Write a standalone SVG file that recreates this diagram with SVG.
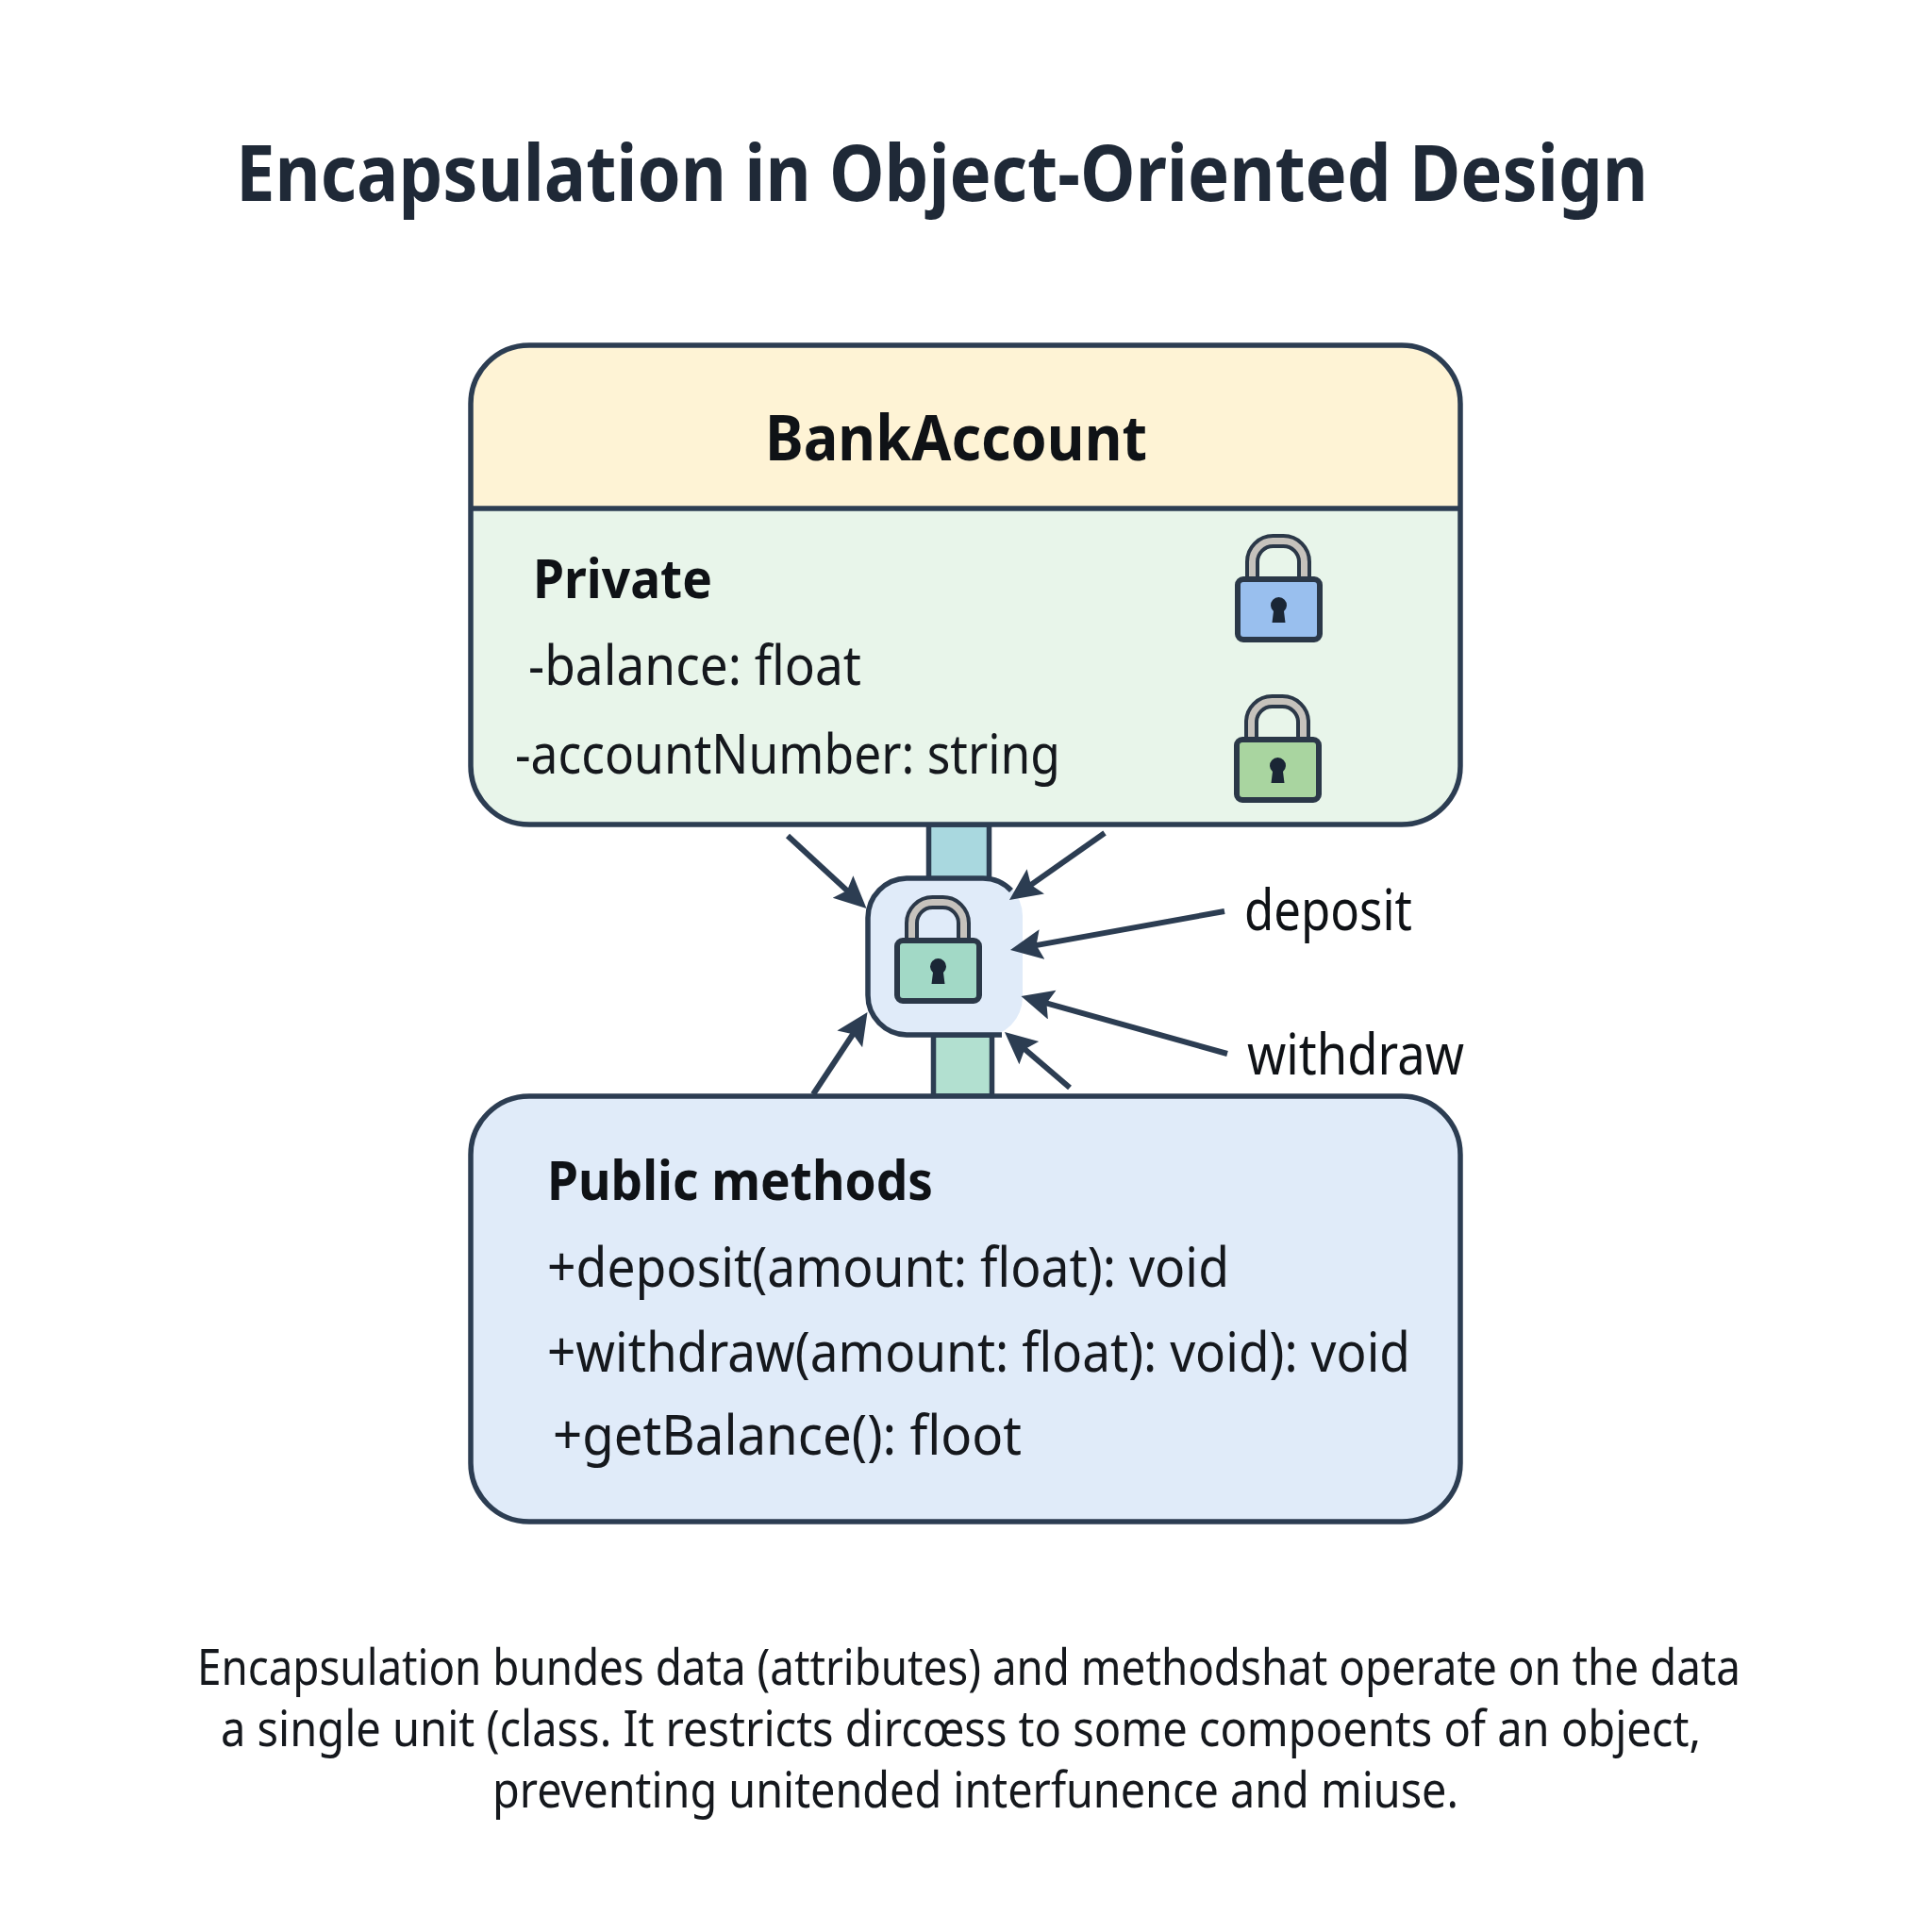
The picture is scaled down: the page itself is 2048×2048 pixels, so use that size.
<svg xmlns="http://www.w3.org/2000/svg" width="2048" height="2048" viewBox="0 0 2048 2048">
<style>
text{font-family:"Noto Sans","Open Sans","Liberation Sans",sans-serif;fill:#0f1216}
.title{font-size:82px;font-weight:700;fill:#1f2937}
.head{font-size:67px;font-weight:700}
.sec{font-size:58px;font-weight:700}
.row{font-size:58px;fill:#15181d}
.lab{font-size:60px}
.cap{font-size:52px;fill:#15181d}
.edge{fill:none;stroke:#2c3d52;stroke-width:5.500}
.out{fill:none;stroke:#2c3d52;stroke-width:5.500}
.ar{fill:none;stroke:#2c3d52;stroke-width:6;marker-end:url(#head)}
</style>
<defs>
<marker id="head" markerUnits="userSpaceOnUse" markerWidth="36" markerHeight="36" refX="22" refY="16" orient="auto">
<path d="M0 0L34 16L0 32L6 16Z" fill="#2c3d52"/>
</marker>
<g id="lock">
<path d="M18.500 4V-15.500A22 22 0 0 1 40.500-37.500H51.500A22 22 0 0 1 73.500-15.500V4" fill="none" stroke="#2b3848" stroke-width="15"/>
<path d="M18.500 4V-15.500A22 22 0 0 1 40.500-37.500H51.500A22 22 0 0 1 73.500-15.500V4" fill="none" stroke="#c6c2bc" stroke-width="7"/>
<rect x="3" y="3" width="87" height="64" rx="6" stroke="#2b3848" stroke-width="6"/>
<path d="M41 37A8.500 8.500 0 1 1 52 37L53.500 49H39.500Z" fill="#1a2635"/>
</g>
</defs>
<rect width="2048" height="2048" fill="#fff"/>
<text class="title" x="250" y="213" textLength="1497" lengthAdjust="spacingAndGlyphs">Encapsulation in Object-Oriented Design</text>

<g id="shafts">
<rect class="edge" x="984.500" y="874" width="64" height="58" style="fill:#a9d8df"/>
<rect class="edge" x="989.500" y="1097" width="62" height="65" style="fill:#b2e0d0"/>
</g>

<g id="class-box">
<path d="M499 539V428A62 62 0 0 1 561 366H1486A62 62 0 0 1 1548 428V539Z" fill="#fef3d5"/>
<path d="M499 539H1548V812A62 62 0 0 1 1486 874H561A62 62 0 0 1 499 812Z" fill="#e8f5ea"/>
<rect class="out" x="499" y="366" width="1049" height="508" rx="62"/>
<line class="out" x1="499" y1="539" x2="1548" y2="539"/>
<text class="head" x="811" y="488" textLength="405" lengthAdjust="spacingAndGlyphs">BankAccount</text>
<text class="sec" x="565" y="634" textLength="190" lengthAdjust="spacingAndGlyphs">Private</text>
<text class="row" x="560" y="726" textLength="353" lengthAdjust="spacingAndGlyphs">-balance: float</text>
<text class="row" x="546" y="820" textLength="578" lengthAdjust="spacingAndGlyphs">-accountNumber: string</text>
</g>
<g id="lock-balance"><use href="#lock" x="1309" y="611" fill="#99bfee"/></g>
<g id="lock-account"><use href="#lock" x="1308" y="781" fill="#a9d5a0"/></g>

<g id="gate">
<rect x="919" y="929" width="165" height="170" rx="42" fill="#e0ebf9"/>
<path class="out" d="M1072 944A42 42 0 0 0 1042 931H961A42 42 0 0 0 920 973V1055A42 42 0 0 0 961 1097H1062"/>
<use href="#lock" x="948" y="994" fill="#a2d9c6"/>
</g>

<g id="label-deposit"><text class="lab" x="1319" y="986" textLength="178" lengthAdjust="spacingAndGlyphs">deposit</text></g>
<g id="label-withdraw"><text class="lab" x="1322" y="1139" textLength="230" lengthAdjust="spacingAndGlyphs">withdraw</text></g>

<g id="public-box">
<rect x="499" y="1162" width="1049" height="451" rx="62" fill="#e0ebf9"/>
<rect class="out" x="499" y="1162" width="1049" height="451" rx="62"/>
<text class="sec" x="580" y="1272" textLength="409" lengthAdjust="spacingAndGlyphs">Public methods</text>
<text class="row" x="580" y="1364" textLength="723" lengthAdjust="spacingAndGlyphs">+deposit(amount: float): void</text>
<text class="row" x="580" y="1454" textLength="915" lengthAdjust="spacingAndGlyphs">+withdraw(amount: float): void): void</text>
<text class="row" x="586" y="1542" textLength="497" lengthAdjust="spacingAndGlyphs">+getBalance(): floot</text>
</g>

<g id="connectors">
<line class="ar" x1="835" y1="886" x2="909.700" y2="954.900"/>
<line class="ar" x1="1171" y1="883" x2="1079.800" y2="947.100"/>
<line class="ar" x1="1298" y1="966" x2="1082.800" y2="1004.900"/>
<line class="ar" x1="1301" y1="1117" x2="1094" y2="1059.200"/>
<line class="ar" x1="862" y1="1160" x2="912.900" y2="1083"/>
<line class="ar" x1="1134" y1="1153" x2="1074.100" y2="1101.800"/>
</g>

<g id="caption">
<text class="cap" x="209" y="1786" textLength="1636" lengthAdjust="spacingAndGlyphs">Encapsulation bundes data (attributes) and methodshat operate on the data</text>
<text class="cap" x="234" y="1851" textLength="1569" lengthAdjust="spacingAndGlyphs">a single unit (class. It restricts dircœss to some compoents of an object,</text>
<text class="cap" x="522" y="1916" textLength="1024" lengthAdjust="spacingAndGlyphs">preventing unitended interfunence and miuse.</text>
</g>
</svg>
